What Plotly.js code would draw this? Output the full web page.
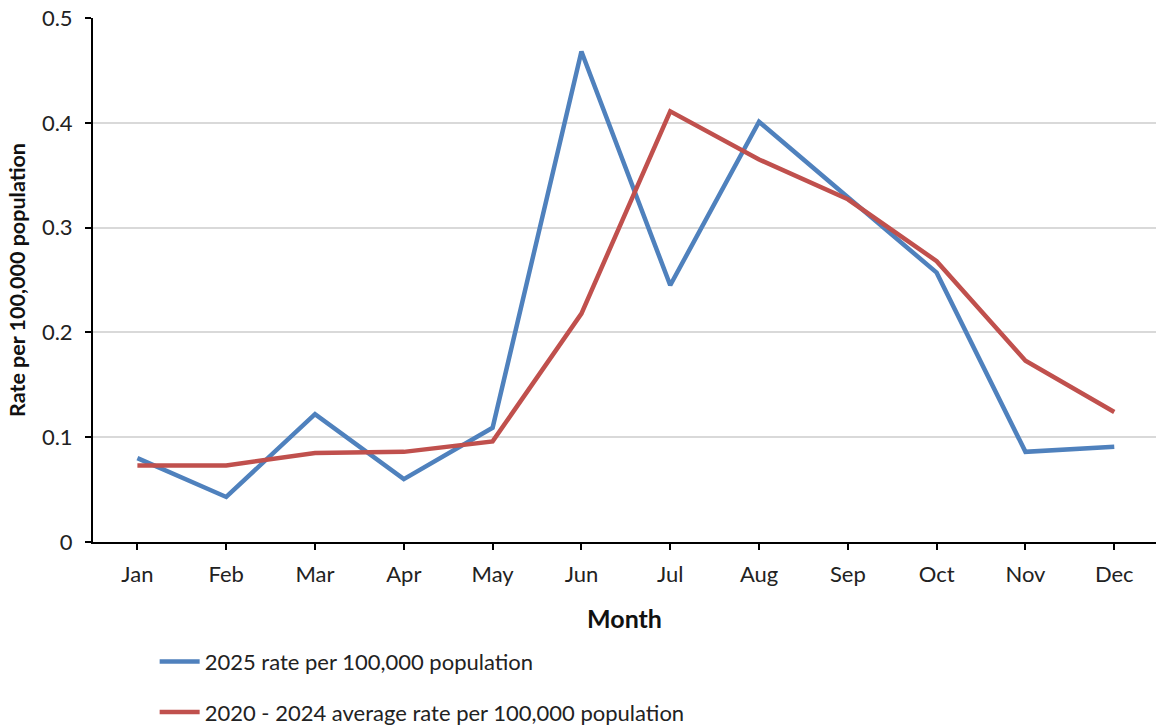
<!DOCTYPE html>
<html>
<head>
<meta charset="utf-8">
<script src="https://cdn.plot.ly/plotly-3.0.1.min.js"></script>
<style>html,body{margin:0;padding:0;background:#fff;}#chart{width:1156px;height:728px;}</style>
</head>
<body>
<div id="chart"></div>
<script>
const months = ["Jan","Feb","Mar","Apr","May","Jun","Jul","Aug","Sep","Oct","Nov","Dec"];
const rate2025 = [0.080, 0.043, 0.122, 0.060, 0.109, 0.468, 0.245, 0.401, 0.329, 0.257, 0.086, 0.091];
const avg2020_2024 = [0.073, 0.073, 0.085, 0.086, 0.096, 0.218, 0.411, 0.365, 0.327, 0.268, 0.173, 0.124];
const seriesNames = ["2025 rate per 100,000 population", "2020 - 2024 average rate per 100,000 population"];
const yTicks = [0, 0.1, 0.2, 0.3, 0.4, 0.5];
const yTickText = ["0", "0.1", "0.2", "0.3", "0.4", "0.5"];

const font = "Lato, 'Open Sans', sans-serif";
const traces = [
  {x: months, y: rate2025, name: seriesNames[0], type: "scatter", mode: "lines",
   line: {color: "#4f81bd", width: 4.5}, legendgroup: "a"},
  {x: months, y: avg2020_2024, name: seriesNames[1], type: "scatter", mode: "lines",
   line: {color: "#c0504d", width: 4.5}, legendgroup: "b"}
];
const layout = {
  width: 1156, height: 728,
  margin: {l: 93, r: 0, t: 18, b: 186, autoexpand: false},
  paper_bgcolor: "#fff", plot_bgcolor: "#fff",
  font: {family: font, color: "#222", size: 22},
  showlegend: true,
  legend: {orientation: "v", x: 0.058, xanchor: "left", xref: "paper",
    y: 0.12, yanchor: "top", yref: "container",
    font: {family: font, size: 22, color: "#222"}, tracegroupgap: 19, itemwidth: 40},
  xaxis: {
    type: "category", range: [-0.5, 11.47],
    showline: true, linecolor: "#000", linewidth: 2,
    ticks: "outside", ticklen: 6, tickwidth: 2, tickcolor: "#000",
    ticklabelstandoff: 6,
    showgrid: false, zeroline: false, automargin: false,
    tickfont: {family: font, size: 22, color: "#222"},
    title: {text: "<b>Month</b>", font: {family: font, size: 25, color: "#111"}, standoff: 24}
  },
  yaxis: {
    range: [0, 0.5], tickvals: yTicks, ticktext: yTickText,
    showline: true, linecolor: "#000", linewidth: 2,
    ticks: "outside", ticklen: 6, tickwidth: 2, tickcolor: "#000",
    ticklabelstandoff: 8, automargin: false,
    showgrid: true, gridcolor: "#d9d9d9", gridwidth: 2, zeroline: false,
    tickfont: {family: font, size: 22, color: "#222"},
    title: {text: "<b>Rate per 100,000 population</b>", font: {family: font, size: 21.5, color: "#111"}, standoff: 10}
  }
};
Plotly.newPlot("chart", traces, layout, {displayModeBar: false, staticPlot: true});
</script>
</body>
</html>
